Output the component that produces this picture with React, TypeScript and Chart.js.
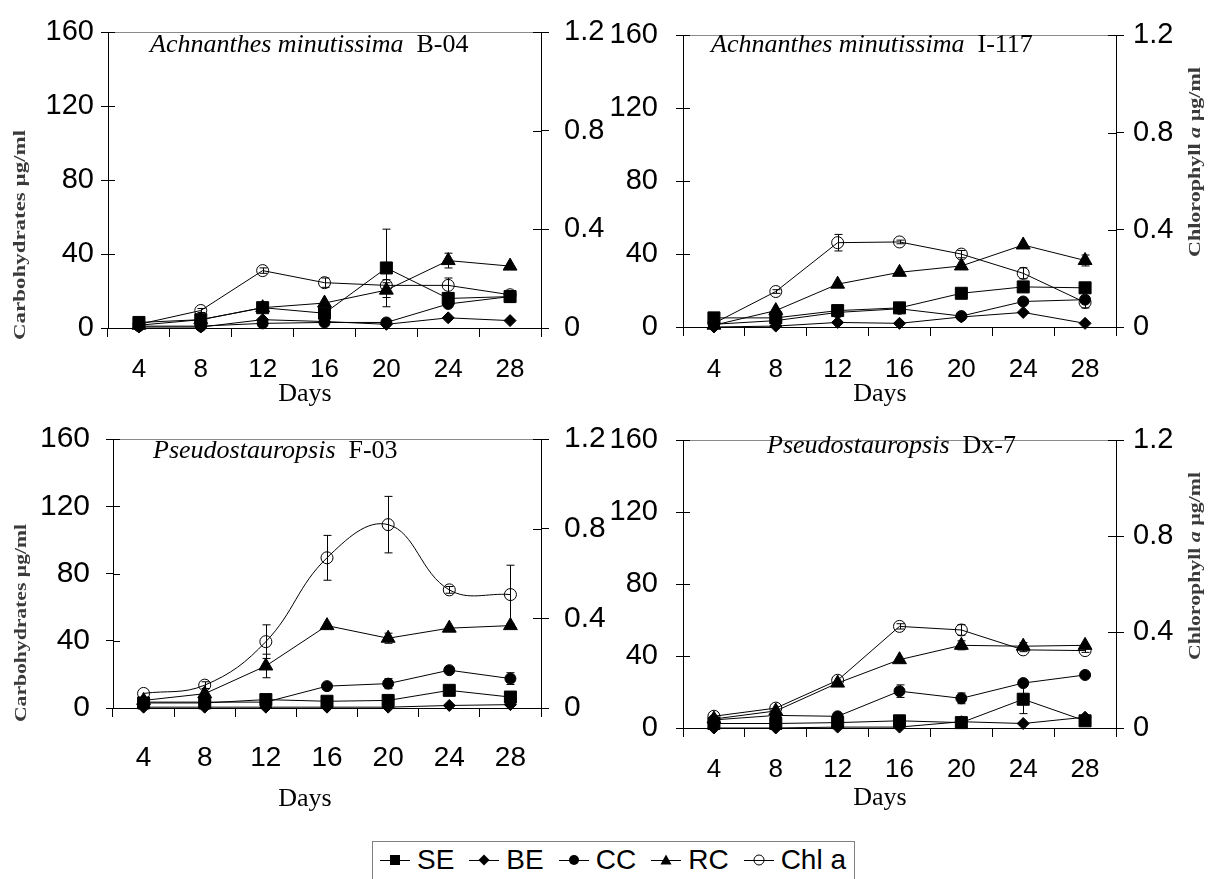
import React, { useEffect, useRef } from 'react';
import { Chart, registerables } from 'chart.js';

Chart.register(...registerables);

const SERIF = '"Liberation Serif", "Times New Roman", serif';
const SANS = '"Liberation Sans", Arial, sans-serif';

// ---------- data ----------
const days = ['4', '8', '12', '16', '20', '24', '28'];
const carbTicks = [0, 40, 80, 120, 160];
const chlTicks = [0, 0.4, 0.8, 1.2];
const legendLabels = ['SE', 'BE', 'CC', 'RC', 'Chl a'];

// Achnanthes minutissima B-04
const b04SE = [3, 4.5, 11, 8, 32.5, 16, 17];
const b04SEerr = [0, 0, 0, 0, 21, 0, 3];
const b04BE = [0.5, 0.5, 4.5, 3.5, 2, 5.5, 4];
const b04CC = [1, 1, 2.5, 3, 3, 13, 17];
const b04CCerr = [0, 0, 0, 0, 0, 0, 2];
const b04RC = [1.5, 4.5, 11, 13.5, 20.5, 36.5, 33.5];
const b04RCerr = [0, 0, 0, 0, 4, 4, 0];
const b04Chl = [0.015, 0.071, 0.233, 0.184, 0.173, 0.173, 0.135];
const b04ChlErr = [0, 0.008, 0.011, 0.019, 0.023, 0.03, 0.015];

// Achnanthes minutissima I-117
const i117SE = [5, 5, 9, 10.5, 18.5, 22, 21.5];
const i117BE = [0, 0.5, 2.5, 2, 5.5, 8, 2];
const i117CC = [1.5, 3.5, 8, 10, 6, 14, 15];
const i117RC = [1, 9, 23.5, 30, 33.5, 45, 36.5];
const i117RCerr = [0, 0, 0, 0, 0, 0, 3];
const i117Chl = [0.015, 0.146, 0.347, 0.35, 0.3, 0.221, 0.101];
const i117ChlErr = [0, 0.0075, 0.034, 0.0075, 0.015, 0.0225, 0.0225];

// Pseudostauropsis F-03
const f03SE = [3, 3, 5, 4, 4.5, 10.5, 6.5];
const f03BE = [0.5, 0.5, 0.5, 0.5, 0.5, 1.5, 2];
const f03CC = [3.5, 3.5, 3.5, 13, 14.5, 22.5, 17.5];
const f03CCerr = [0, 0, 0, 0, 3, 0, 3.5];
const f03RC = [4.5, 8.5, 25, 49, 41.5, 47.5, 49];
const f03RCerr = [0, 0, 7, 0, 3, 0, 0];
const f03Chl = [0.065, 0.102, 0.296, 0.67, 0.818, 0.527, 0.506];
const f03ChlErr = [0, 0.015, 0.075, 0.1, 0.126, 0.015, 0.131];

// Pseudostauropsis Dx-7
const dx7SE = [2.5, 2.5, 3, 4, 3, 16, 4];
const dx7SEerr = [0, 0, 0, 0, 0, 8, 0];
const dx7BE = [0, 0, 0.5, 0.5, 3.5, 2.5, 6];
const dx7CC = [4.5, 7, 6.5, 20.5, 16.5, 25, 29.5];
const dx7CCerr = [0, 0, 0, 3.5, 3, 0, 0];
const dx7RC = [5, 9.5, 25, 38, 46, 45.5, 46];
const dx7RCerr = [0, 0, 0, 0, 2.5, 2, 0];
const dx7Chl = [0.049, 0.083, 0.199, 0.424, 0.409, 0.326, 0.323];
const dx7ChlErr = [0, 0, 0, 0.011, 0.022, 0.0075, 0.0075];

// ---------- panel layout ----------
type Box = { left: number; top: number; w: number; h: number };
type Area = { left: number; top: number; right: number; bottom: number };
type SideTitle = { x: number; y: number; len: number } | null;

interface PanelDef {
  canvas: Box;
  area: Area;
  titleItalic: string;
  titleRoman: string;
  titleX: number;
  titleY: number;
  daysX: number;
  daysY: number;
  xFont: number;
  yFont: number;
  xPad: number;
  yPad: number;
  y1Pad: number;
  leftTitle: SideTitle;
  rightTitle: SideTitle;
  tension: number;
  se: number[]; seErr?: number[];
  be: number[];
  cc: number[]; ccErr?: number[];
  rc: number[]; rcErr?: number[];
  chl: number[]; chlErr?: number[];
}

const panels: PanelDef[] = [
  {
    canvas: { left: 0, top: 0, w: 605, h: 420 },
    area: { left: 108, top: 24, right: 541, bottom: 328 },
    titleItalic: 'Achnanthes minutissima', titleRoman: 'B-04', titleX: 150, titleY: 52,
    daysX: 305, daysY: 401, xFont: 26, yFont: 29, xPad: 17, yPad: 7, y1Pad: 15,
    leftTitle: { x: 21, y: 235, len: 210 }, rightTitle: null, tension: 0,
    se: b04SE, seErr: b04SEerr, be: b04BE, cc: b04CC, ccErr: b04CCerr,
    rc: b04RC, rcErr: b04RCerr, chl: b04Chl, chlErr: b04ChlErr,
  },
  {
    canvas: { left: 605, top: 0, w: 605, h: 420 },
    area: { left: 683, top: 24, right: 1116, bottom: 327 },
    titleItalic: 'Achnanthes minutissima', titleRoman: 'I-117', titleX: 711, titleY: 52,
    daysX: 880, daysY: 401, xFont: 26, yFont: 29, xPad: 18, yPad: 18, y1Pad: 9,
    leftTitle: null, rightTitle: { x: 1196, y: 162, len: 190 }, tension: 0,
    se: i117SE, be: i117BE, cc: i117CC, rc: i117RC, rcErr: i117RCerr,
    chl: i117Chl, chlErr: i117ChlErr,
  },
  {
    canvas: { left: 0, top: 405, w: 605, h: 435 },
    area: { left: 113, top: 433, right: 541, bottom: 708 },
    titleItalic: 'Pseudostauropsis', titleRoman: 'F-03', titleX: 153, titleY: 458,
    daysX: 305, daysY: 806, xFont: 28, yFont: 30, xPad: 24, yPad: 16, y1Pad: 15,
    leftTitle: { x: 22, y: 623, len: 198 }, rightTitle: null, tension: 0.4,
    se: f03SE, be: f03BE, cc: f03CC, ccErr: f03CCerr, rc: f03RC, rcErr: f03RCerr,
    chl: f03Chl, chlErr: f03ChlErr,
  },
  {
    canvas: { left: 605, top: 405, w: 605, h: 435 },
    area: { left: 683, top: 426, right: 1116, bottom: 728 },
    titleItalic: 'Pseudostauropsis', titleRoman: 'Dx-7', titleX: 767, titleY: 453,
    daysX: 880, daysY: 805, xFont: 26, yFont: 29, xPad: 17, yPad: 18, y1Pad: 9,
    leftTitle: null, rightTitle: { x: 1196, y: 566, len: 188 }, tension: 0,
    se: dx7SE, seErr: dx7SEerr, be: dx7BE, cc: dx7CC, ccErr: dx7CCerr,
    rc: dx7RC, rcErr: dx7RCerr, chl: dx7Chl, chlErr: dx7ChlErr,
  },
];

// ---------- helpers ----------
type Run = [string, string];
function runsWidth(ctx: CanvasRenderingContext2D, runs: Run[]) {
  let w = 0;
  for (const [t, f] of runs) { ctx.font = f; w += ctx.measureText(t).width; }
  return w;
}
function drawRuns(ctx: CanvasRenderingContext2D, runs: Run[], x: number, y: number) {
  let cx = x;
  for (const [t, f] of runs) { ctx.font = f; ctx.fillText(t, cx, y); cx += ctx.measureText(t).width; }
}
function drawSideTitle(ctx: CanvasRenderingContext2D, runs: Run[], x: number, y: number, len: number) {
  ctx.save();
  ctx.translate(x, y);
  ctx.rotate(-Math.PI / 2);
  const w = runsWidth(ctx, runs);
  ctx.scale(len / w, 1);
  ctx.textBaseline = 'middle';
  ctx.textAlign = 'left';
  ctx.fillStyle = '#3a3a3a';
  drawRuns(ctx, runs, -w / 2, 0);
  ctx.restore();
}

const decorPlugin = {
  id: 'decor',
  beforeDatasetsDraw(chart: any) {
    const ctx: CanvasRenderingContext2D = chart.ctx;
    const xs = chart.scales.x;
    ctx.save();
    ctx.strokeStyle = '#000';
    ctx.lineWidth = 1;
    chart.data.datasets.forEach((ds: any) => {
      const errs: number[] | undefined = ds.errors;
      if (!errs) return;
      const ys = chart.scales[ds.yAxisID || 'y'];
      ds.data.forEach((v: number, i: number) => {
        const e = errs[i];
        if (!e) return;
        const x = Math.round(xs.getPixelForValue(i)) + 0.5;
        const yt = ys.getPixelForValue(v + e);
        const yb = ys.getPixelForValue(Math.max(v - e, 0));
        ctx.beginPath();
        ctx.moveTo(x, yt); ctx.lineTo(x, yb);
        ctx.moveTo(x - 4, yt); ctx.lineTo(x + 4, yt);
        ctx.moveTo(x - 4, yb); ctx.lineTo(x + 4, yb);
        ctx.stroke();
      });
    });
    ctx.restore();
  },
  afterDraw(chart: any) {
    const o = chart.options.plugins.decor;
    const p: PanelDef = o.panel;
    const ctx: CanvasRenderingContext2D = chart.ctx;
    const a = chart.chartArea;
    const ox = p.canvas.left, oy = p.canvas.top;
    ctx.save();
    // top frame line
    ctx.strokeStyle = '#8a8a8a';
    ctx.lineWidth = 1;
    ctx.beginPath();
    ctx.moveTo(a.left, Math.round(a.top) + 0.5);
    ctx.lineTo(a.right, Math.round(a.top) + 0.5);
    ctx.stroke();
    // inner halves of y tick marks
    ctx.strokeStyle = '#000';
    const ys = chart.scales.y, y1 = chart.scales.y1;
    ctx.beginPath();
    ys.ticks.forEach((t: any) => {
      const py = Math.round(ys.getPixelForValue(t.value)) + 0.5;
      ctx.moveTo(a.left, py); ctx.lineTo(a.left + 7, py);
    });
    y1.ticks.forEach((t: any) => {
      const py = Math.round(y1.getPixelForValue(t.value)) + 0.5;
      ctx.moveTo(a.right - 8, py); ctx.lineTo(a.right, py);
    });
    ctx.stroke();
    // panel title
    ctx.fillStyle = '#000';
    ctx.textBaseline = 'alphabetic';
    ctx.textAlign = 'left';
    drawRuns(ctx, [
      [p.titleItalic, `italic 26px ${SERIF}`],
      ['  ' + p.titleRoman, `26px ${SERIF}`],
    ], p.titleX - ox, p.titleY - oy);
    // x-axis title
    ctx.font = `26px ${SERIF}`;
    ctx.textAlign = 'center';
    ctx.fillText('Days', p.daysX - ox, p.daysY - oy);
    ctx.textAlign = 'left';
    if (p.leftTitle) {
      drawSideTitle(ctx, [['Carbohydrates \u00b5g/ml', `bold 16px ${SERIF}`]],
        p.leftTitle.x - ox, p.leftTitle.y - oy, p.leftTitle.len);
    }
    if (p.rightTitle) {
      drawSideTitle(ctx, [
        ['Chlorophyll ', `bold 17px ${SERIF}`],
        ['a', `italic bold 17px ${SERIF}`],
        [' \u00b5g/ml', `bold 17px ${SERIF}`],
      ], p.rightTitle.x - ox, p.rightTitle.y - oy, p.rightTitle.len);
    }
    ctx.restore();
  },
};

function mkSeries(label: string, data: number[], errors: number[] | undefined, kind: number, tension: number) {
  const base: any = {
    label, data, errors,
    yAxisID: kind === 4 ? 'y1' : 'y',
    borderColor: '#000', borderWidth: 1, tension: kind === 4 ? tension : 0,
    clip: false, fill: false,
    pointBorderColor: '#000', pointBorderWidth: 1, pointBackgroundColor: '#000',
  };
  if (kind === 0) { base.pointStyle = 'rect'; base.pointRadius = 8.5; }
  if (kind === 1) { base.pointStyle = 'rectRot'; base.pointRadius = 6; }
  if (kind === 2) { base.pointStyle = 'circle'; base.pointRadius = 5.5; }
  if (kind === 3) { base.pointStyle = 'triangle'; base.pointRadius = 8; }
  if (kind === 4) { base.pointStyle = 'circle'; base.pointRadius = 6; base.pointBackgroundColor = 'rgba(0,0,0,0)'; }
  return base;
}

function buildConfig(p: PanelDef): any {
  const tickFont = { family: SANS, size: p.yFont };
  const yW = p.area.left - p.canvas.left;
  const y1W = p.canvas.left + p.canvas.w - p.area.right;
  const xH = p.canvas.top + p.canvas.h - p.area.bottom;
  return {
    type: 'line',
    data: {
      labels: days,
      datasets: [
        mkSeries(legendLabels[0], p.se, p.seErr, 0, p.tension),
        mkSeries(legendLabels[1], p.be, undefined, 1, p.tension),
        mkSeries(legendLabels[2], p.cc, p.ccErr, 2, p.tension),
        mkSeries(legendLabels[3], p.rc, p.rcErr, 3, p.tension),
        mkSeries(legendLabels[4], p.chl, p.chlErr, 4, p.tension),
      ],
    },
    options: {
      responsive: false,
      maintainAspectRatio: false,
      animation: false,
      events: [],
      layout: { padding: { top: p.area.top - p.canvas.top, left: 0, right: 0, bottom: 0 } },
      plugins: {
        legend: { display: false },
        tooltip: { enabled: false },
        title: { display: false },
        decor: { panel: p },
      },
      scales: {
        x: {
          type: 'category',
          offset: true,
          grid: { offset: true, drawOnChartArea: false, tickLength: 9, color: '#000', lineWidth: 1 },
          border: { color: '#000', width: 1 },
          ticks: { font: { family: SANS, size: p.xFont }, color: '#000', padding: p.xPad, autoSkip: false, maxRotation: 0 },
          afterFit: (s: any) => { s.height = xH; },
        },
        y: {
          position: 'left',
          min: carbTicks[0],
          max: carbTicks[carbTicks.length - 1],
          ticks: { stepSize: carbTicks[1] - carbTicks[0], font: tickFont, color: '#000', padding: p.yPad },
          grid: { drawOnChartArea: false, tickLength: 7, color: '#000', lineWidth: 1 },
          border: { color: '#000', width: 1 },
          afterFit: (s: any) => { s.width = yW; },
        },
        y1: {
          position: 'right',
          min: chlTicks[0],
          max: chlTicks[chlTicks.length - 1],
          ticks: {
            stepSize: chlTicks[1] - chlTicks[0], font: tickFont, color: '#000', padding: p.y1Pad,
            callback: (v: any) => String(+Number(v).toFixed(1)),
          },
          grid: { drawOnChartArea: false, tickLength: 8, color: '#000', lineWidth: 1 },
          border: { color: '#000', width: 1 },
          afterFit: (s: any) => { s.width = y1W; },
        },
      },
    },
    plugins: [decorPlugin],
  };
}

function Panel({ p }: { p: PanelDef }) {
  const ref = useRef<HTMLCanvasElement>(null);
  useEffect(() => {
    if (!ref.current) return;
    const chart = new Chart(ref.current, buildConfig(p));
    return () => chart.destroy();
  }, [p]);
  return (
    <canvas
      ref={ref}
      width={p.canvas.w}
      height={p.canvas.h}
      style={{ position: 'absolute', left: p.canvas.left, top: p.canvas.top, width: p.canvas.w, height: p.canvas.h }}
    />
  );
}

function Glyph({ kind }: { kind: number }) {
  let marker: React.ReactNode = null;
  if (kind === 0) marker = <rect x={10} y={3} width={10} height={10} fill="#000" />;
  if (kind === 1) marker = <polygon points="15,2.5 20.5,8 15,13.5 9.5,8" fill="#000" />;
  if (kind === 2) marker = <circle cx={15} cy={8} r={5} fill="#000" />;
  if (kind === 3) marker = <polygon points="15,2.5 20.5,12.5 9.5,12.5" fill="#000" />;
  if (kind === 4) marker = <circle cx={15} cy={8} r={5} fill="none" stroke="#000" strokeWidth={1} />;
  return (
    <svg width={30} height={16} style={{ display: 'block' }}>
      <line x1={0} y1={8.5} x2={30} y2={8.5} stroke="#000" strokeWidth={1} />
      {marker}
    </svg>
  );
}

function Legend() {
  return (
    <div
      style={{
        position: 'absolute', left: 372, top: 841,
        border: '1px solid #808080', background: '#fff', boxSizing: 'border-box',
        display: 'flex', alignItems: 'center',
        padding: '0 8px 0 7px', height: 64, paddingBottom: 26,
        fontFamily: SANS, fontSize: 28, color: '#000', lineHeight: '32px',
      }}
    >
      {legendLabels.map((l, i) => (
        <div key={l} style={{ display: 'flex', alignItems: 'center', marginRight: i < legendLabels.length - 1 ? 15 : 0 }}>
          <Glyph kind={i} />
          <span style={{ marginLeft: 7, whiteSpace: 'pre' }}>{l}</span>
        </div>
      ))}
    </div>
  );
}

export default function App() {
  return (
    <div style={{ position: 'absolute', left: 0, top: 0, width: 1210, height: 879, overflow: 'hidden', background: '#fff' }}>
      {panels.map((p, i) => <Panel key={i} p={p} />)}
      <Legend />
    </div>
  );
}
